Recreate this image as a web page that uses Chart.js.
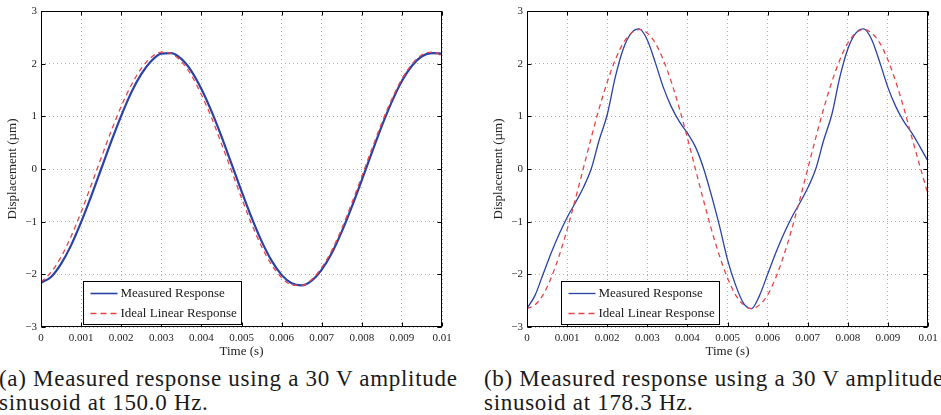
<!DOCTYPE html>
<html>
<head>
<meta charset="utf-8">
<script src="https://cdn.jsdelivr.net/npm/chart.js@4.4.0/dist/chart.umd.min.js"></script>
<style>
    body { margin: 0; width: 941px; height: 415px; overflow: hidden; background: #fff; position: relative; }
    canvas { position: absolute; top: 0; }
    #chart-a { left: 0; }
    #chart-b { left: 486px; }
    .caption {
        position: absolute; top: 367px;
        font-family: 'Liberation Serif', 'Times New Roman', 'DejaVu Serif';
        font-size: 23px; line-height: 23.5px;
        letter-spacing: 0.7px; white-space: nowrap; color: #1a1a1a;
    }
</style>
</head>
<body>
<canvas id="chart-a" width="470" height="360"></canvas>
<canvas id="chart-b" width="470" height="360"></canvas>
<div class="caption" style="left:-1px">(a) Measured response using a 30 V amplitude<br>sinusoid at 150.0 Hz.</div>
<div class="caption" style="left:484px">(b) Measured response using a 30 V amplitude<br>sinusoid at 178.3 Hz.</div>
<script>
// (a) 150.0 Hz, sampled every 0.25 ms
const timeA = [0, 0.00025, 0.0005, 0.00075, 0.001, 0.00125, 0.0015, 0.00175, 0.002, 0.00225,
    0.0025, 0.00275, 0.003, 0.00325, 0.0035, 0.00375, 0.004, 0.00425, 0.0045, 0.00475,
    0.005, 0.00525, 0.0055, 0.00575, 0.006, 0.00625, 0.0065, 0.00675, 0.007, 0.00725,
    0.0075, 0.00775, 0.008, 0.00825, 0.0085, 0.00875, 0.009, 0.00925, 0.0095, 0.00975, 0.01];
const measuredA = [-2.16, -2.05, -1.80, -1.45, -1.01, -0.52, 0.00, 0.52, 1.01, 1.45,
    1.80, 2.05, 2.19, 2.20, 2.09, 1.86, 1.52, 1.10, 0.62, 0.10,
    -0.42, -0.92, -1.37, -1.74, -2.01, -2.17, -2.21, -2.12, -1.91, -1.60,
    -1.19, -0.72, -0.21, 0.31, 0.82, 1.28, 1.67, 1.96, 2.14, 2.20, 2.19];
const idealA = [-2.15, -1.96, -1.67, -1.28, -0.82, -0.31, 0.21, 0.72, 1.19, 1.59,
    1.91, 2.12, 2.22, 2.19, 2.04, 1.78, 1.41, 0.98, 0.48, -0.03,
    -0.55, -1.04, -1.47, -1.82, -2.06, -2.20, -2.21, -2.10, -1.87, -1.55,
    -1.13, -0.65, -0.14, 0.38, 0.88, 1.33, 1.71, 1.99, 2.17, 2.22, 2.15];

// (b) 178.3 Hz, sampled every 0.2 ms
const timeB = [0, 0.0002, 0.0004, 0.0006, 0.0008, 0.001, 0.0012, 0.0014, 0.0016, 0.0018,
    0.002, 0.0022, 0.0024, 0.0026, 0.0028, 0.003, 0.0032, 0.0034, 0.0036, 0.0038,
    0.004, 0.0042, 0.0044, 0.0046, 0.0048, 0.005, 0.0052, 0.0054, 0.0056, 0.0058,
    0.006, 0.0062, 0.0064, 0.0066, 0.0068, 0.007, 0.0072, 0.0074, 0.0076, 0.0078,
    0.008, 0.0082, 0.0084, 0.0086, 0.0088, 0.009, 0.0092, 0.0094, 0.0096, 0.0098, 0.01];
const measuredB = [-2.65, -2.40, -2.00, -1.60, -1.24, -0.92, -0.65, -0.36, 0.00, 0.55,
    1.03, 1.74, 2.28, 2.58, 2.66, 2.45, 2.02, 1.55, 1.18, 0.90,
    0.68, 0.42, 0.02, -0.50, -1.08, -1.72, -2.20, -2.55, -2.65, -2.40,
    -2.00, -1.60, -1.24, -0.92, -0.65, -0.36, 0.00, 0.55, 1.03, 1.74,
    2.28, 2.58, 2.66, 2.45, 2.02, 1.55, 1.18, 0.90, 0.68, 0.42, 0.15];
const idealB = [-2.65, -2.58, -2.39, -2.07, -1.65, -1.15, -0.59, 0.00, 0.59, 1.15,
    1.65, 2.07, 2.39, 2.58, 2.65, 2.58, 2.39, 2.07, 1.65, 1.15,
    0.59, 0.00, -0.59, -1.15, -1.65, -2.07, -2.39, -2.58, -2.65, -2.58,
    -2.39, -2.07, -1.65, -1.15, -0.59, 0.00, 0.59, 1.15, 1.65, 2.07,
    2.39, 2.58, 2.65, 2.58, 2.39, 2.07, 1.65, 1.15, 0.59, 0.05, -0.48];

const xTickValues = [0, 0.001, 0.002, 0.003, 0.004, 0.005, 0.006, 0.007, 0.008, 0.009, 0.01];
const xTickLabels = ['0', '0.001', '0.002', '0.003', '0.004', '0.005', '0.006', '0.007', '0.008', '0.009', '0.01'];
const yTickValues = [-3, -2, -1, 0, 1, 2, 3];
const yTickLabels = ['\u22123', '\u22122', '\u22121', '0', '1', '2', '3'];
const seriesNames = ['Measured Response', 'Ideal Linear Response'];

const BLUE = '#2a42a8';
const RED = '#e8454a';
const SERIF = "'Liberation Serif', 'Times New Roman', 'DejaVu Serif'";

// box round the axes, inward ticks and the legend in the lower left
const frameLegend = {
    id: 'frameLegend',
    afterDatasetsDraw(chart, args, opts) {
        const { ctx, chartArea: a, scales } = chart;
        const l = Math.round(a.left) + 0.5, r = Math.round(a.right) - 0.5;
        const t = Math.round(a.top) + 0.5, b = Math.round(a.bottom) - 0.5;
        ctx.save();
        ctx.strokeStyle = '#000';
        ctx.lineWidth = 1;
        ctx.setLineDash([]);
        ctx.strokeRect(l, t, r - l, b - t);
        ctx.beginPath();
        scales.x.ticks.forEach(tk => {
            const px = Math.round(scales.x.getPixelForValue(tk.value)) + 0.5;
            ctx.moveTo(px, b); ctx.lineTo(px, b - 4);
            ctx.moveTo(px, t); ctx.lineTo(px, t + 4);
        });
        scales.y.ticks.forEach(tk => {
            const py = Math.round(scales.y.getPixelForValue(tk.value)) + 0.5;
            ctx.moveTo(l, py); ctx.lineTo(l + 4, py);
            ctx.moveTo(r, py); ctx.lineTo(r - 4, py);
        });
        ctx.stroke();

        const w = 158, h = 43;
        const bx = Math.round(a.left + opts.x) + 0.5;
        const by = Math.round(a.bottom - 3 - h) + 0.5;
        ctx.fillStyle = '#fff';
        ctx.fillRect(bx, by, w, h);
        ctx.strokeRect(bx, by, w, h);
        ctx.font = '13px ' + SERIF;
        ctx.textBaseline = 'middle';
        chart.data.datasets.forEach((ds, i) => {
            const y = Math.round(by + 11 + i * 20) + 0.5;
            ctx.beginPath();
            ctx.strokeStyle = ds.borderColor;
            ctx.lineWidth = Math.min(ds.borderWidth, 1.6);
            ctx.setLineDash(ds.borderDash ? [6, 4] : []);
            ctx.moveTo(bx + 7, y);
            ctx.lineTo(bx + 34, y);
            ctx.stroke();
            ctx.fillStyle = '#1a1a1a';
            ctx.fillText(ds.label, bx + 37, y);
        });
        ctx.restore();
    }
};

function makeChart(id, times, measured, ideal, widths, legendX) {
    return new Chart(document.getElementById(id), {
        type: 'line',
        data: {
            datasets: [{
                label: seriesNames[0],
                data: times.map((t, i) => ({ x: t, y: measured[i] })),
                borderColor: BLUE,
                borderWidth: widths[0],
                pointRadius: 0,
                cubicInterpolationMode: 'monotone',
                order: 2
            }, {
                label: seriesNames[1],
                data: times.map((t, i) => ({ x: t, y: ideal[i] })),
                borderColor: RED,
                borderWidth: widths[1],
                borderDash: [5, 4],
                pointRadius: 0,
                cubicInterpolationMode: 'monotone',
                order: 1
            }]
        },
        options: {
            responsive: false,
            animation: false,
            layout: { padding: { top: 11, right: 28, bottom: 0, left: 0 } },
            plugins: {
                legend: { display: false },
                tooltip: { enabled: false },
                frameLegend: { x: legendX }
            },
            scales: {
                x: {
                    type: 'linear',
                    min: 0,
                    max: 0.01,
                    afterBuildTicks: s => { s.ticks = xTickValues.map(v => ({ value: v })); },
                    afterFit: s => { s.height = 33; },
                    ticks: {
                        callback: (v, i) => xTickLabels[i],
                        font: { family: SERIF, size: 11 },
                        color: '#222',
                        padding: 5,
                        maxRotation: 0,
                        autoSkip: false
                    },
                    grid: { color: '#b0b0b0', drawTicks: false },
                    border: { display: false, dash: [1, 3] },
                    title: {
                        display: true,
                        text: 'Time (s)',
                        font: { family: SERIF, size: 13 },
                        color: '#222',
                        padding: { top: 0, bottom: 1 }
                    }
                },
                y: {
                    min: -3,
                    max: 3,
                    afterBuildTicks: s => { s.ticks = yTickValues.map(v => ({ value: v })); },
                    afterFit: s => { s.width = 41; },
                    ticks: {
                        callback: (v, i) => yTickLabels[i],
                        font: { family: SERIF, size: 11 },
                        color: '#222',
                        padding: 4
                    },
                    grid: { color: '#b0b0b0', drawTicks: false },
                    border: { display: false, dash: [1, 3] },
                    title: {
                        display: true,
                        text: 'Displacement (\u00b5m)',
                        font: { family: SERIF, size: 13 },
                        color: '#222',
                        padding: { top: 5, bottom: 0 }
                    }
                }
            }
        },
        plugins: [frameLegend]
    });
}

makeChart('chart-a', timeA, measuredA, idealA, [2.2, 1.3], 42);
makeChart('chart-b', timeB, measuredB, idealB, [1.3, 1.3], 34);
</script>
</body>
</html>
